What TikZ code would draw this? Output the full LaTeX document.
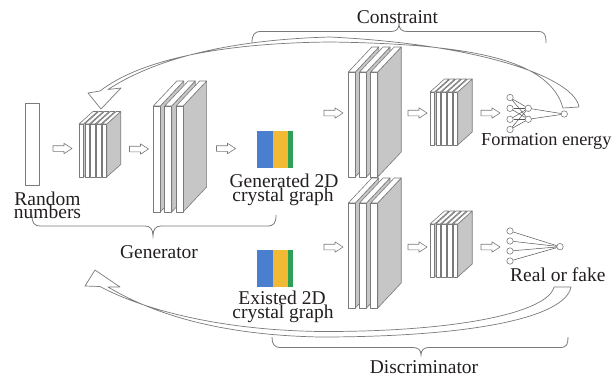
\documentclass[tikz,border=0pt]{standalone}
\usepackage{fontspec}
\setmainfont{Liberation Serif}
\definecolor{edge}{HTML}{7A7A7A}
\definecolor{side}{HTML}{C6C6C6}
\definecolor{ink}{HTML}{231F20}
\definecolor{wire}{HTML}{555555}
\definecolor{cblue}{HTML}{4A7FCF}
\definecolor{cyellow}{HTML}{F2B935}
\definecolor{cgreen}{HTML}{2EA055}

% A row of thin 3D slabs (a convolutional block).
% #1 left x of first front face, #2 bottom y, #3 count, #4 face width,
% #5 face height, #6 pitch, #7 depth dx, #8 depth dy
\newcommand{\slabstack}[8]{%
  \foreach \k in {1,...,#3}{%
    \pgfmathsetmacro{\sx}{#1+(\k-1)*#6}%
    \pgfmathsetmacro{\sr}{\sx+#4}%
    \pgfmathsetmacro{\st}{#2-#5}%
    \filldraw[slab, fill=side] (\sr,#2) -- (\sr,\st) -- ({\sr+#7},{\st-#8}) -- ({\sr+#7},{#2-#8}) -- cycle;
    \filldraw[slab, fill=white] (\sx,\st) -- ({\sx+#7},{\st-#8}) -- ({\sr+#7},{\st-#8}) -- (\sr,\st) -- cycle;
    \filldraw[slab, fill=white] (\sx,#2) rectangle (\sr,\st);
  }%
}

\begin{document}
\begin{tikzpicture}[x=1pt, y=-1pt,
  slab/.style={draw=edge, line width=0.6pt, line join=round},
  band/.style={draw=edge, line width=0.7pt, fill=white, line join=round},
  bracel/.style={draw=edge, line width=0.8pt},
  lbl/.style={inner sep=0pt, text=ink, font=\fontsize{19.5}{19.5}\selectfont},
  neuron/.style={circle, draw=edge, fill=white, line width=0.6pt, minimum size=6.4pt, inner sep=0pt},
  wires/.style={draw=wire, line width=0.5pt},
  barrow/.pic={\draw[slab, fill=white] (0,-2.8) -- (11,-2.8) -- (11,-5.2) -- (19,0) -- (11,5.2) -- (11,2.8) -- (0,2.8) -- cycle;}
]
\useasboundingbox (0,0) rectangle (612,378);
\fill[white] (0,0) rectangle (612,378);

% feedback arrow from the energy predictor back to the generator
\draw[band] (579,107) .. controls (575,80) and (490,45) .. (330,37)
  .. controls (220,40) and (150,62) .. (108,89.5)
  -- (121,88) -- (101,109) -- (88,93) -- (100,91)
  .. controls (140,60) and (220,43) .. (330,42)
  .. controls (480,44) and (550,62) .. (563,108) -- cycle;

% feedback arrow from the discriminator back to the generator
\draw[band] (571,287) .. controls (565,318) and (470,337) .. (320,337)
  .. controls (215,335) and (150,312) .. (108,287)
  -- (120,287) -- (95,270) -- (85,286) -- (100,286.5)
  .. controls (140,308) and (215,330) .. (320,331.5)
  .. controls (460,332) and (548,312) .. (554,287) -- cycle;

% generator
\node[slab, fill=white, minimum width=14.3pt, minimum height=82pt, inner sep=0pt] (rnd) at (32.2,144.2) {};
\pic (a1) at (53,148.5) {barrow};
\slabstack{79}{177}{5}{4.5}{53}{5.8}{14}{12.5}
\pic (a2) at (129.5,149) {barrow};
\slabstack{153.3}{212}{3}{7}{106}{11.4}{23.5}{25}
\pic (a3) at (216.5,148.5) {barrow};

% crystal graphs
\fill[cblue] (257.3,131) rectangle (272.7,167.7);
\fill[cyellow] (272.7,131) rectangle (288.3,167.7);
\fill[cgreen] (288.3,131) rectangle (292.7,167.7);
\fill[cblue] (257.3,250) rectangle (272.7,286.7);
\fill[cyellow] (272.7,250) rectangle (288.3,286.7);
\fill[cgreen] (288.3,250) rectangle (292.7,286.7);

% predictor branch
\pic (a4) at (324,113) {barrow};
\slabstack{348.3}{177}{3}{7}{105}{11.2}{23.5}{25}
\pic (a5) at (408,113) {barrow};
\slabstack{430}{145}{5}{4.5}{53}{5.8}{14.5}{13}
\pic (a6) at (481,113) {barrow};

\node[neuron] (i1) at (510,97.5) {};
\node[neuron] (i2) at (510,108.3) {};
\node[neuron] (i3) at (510,119.3) {};
\node[neuron] (i4) at (510,129.5) {};
\node[neuron] (h1) at (528.3,108.3) {};
\node[neuron] (h2) at (528.3,119.3) {};
\node[neuron] (o1) at (564.3,114) {};
\foreach \a in {i1,i2,i3,i4}{\foreach \b in {h1,h2}{\draw[wires] (\a) -- (\b);}}
\draw[wires] (h1) -- (o1);
\draw[wires] (h2) -- (o1);

% discriminator branch
\pic (a7) at (324,247) {barrow};
\slabstack{348.3}{308}{3}{7}{105}{11.2}{23.5}{25}
\pic (a8) at (408,247) {barrow};
\slabstack{430}{277}{5}{4.5}{53}{5.8}{14.5}{13}
\pic (a9) at (481,247) {barrow};

\node[neuron] (j1) at (510,231) {};
\node[neuron] (j2) at (510,241) {};
\node[neuron] (j3) at (510,251) {};
\node[neuron] (j4) at (510,261) {};
\node[neuron] (o2) at (560,246.7) {};
\foreach \a in {j1,j2,j3,j4}{\draw[wires] (\a) -- (o2);}

% braces
\draw[bracel] (32,215) .. controls (32,223) and (34,226) .. (41,226) -- (145,226)
  .. controls (150,226) and (153,229) .. (153,236)
  .. controls (153,229) and (156,226) .. (161,226) -- (267,226)
  .. controls (274,226) and (276,223) .. (276,215);
\draw[bracel] (252,43) .. controls (252,35) and (254,31.5) .. (261,31.5) -- (391,31.5)
  .. controls (396,31.5) and (399,29) .. (399,24)
  .. controls (399,29) and (402,31.5) .. (407,31.5) -- (538,31.5)
  .. controls (545,31.5) and (546,35) .. (546,43);
\draw[bracel] (272,337) .. controls (272,344) and (274,347.5) .. (281,347.5) -- (413,347.5)
  .. controls (418,347.5) and (421,350) .. (421,355)
  .. controls (421,350) and (424,347.5) .. (429,347.5) -- (560,347.5)
  .. controls (567,347.5) and (568,344) .. (568,337);

% labels
\node[lbl, anchor=base] (trand1) at (47.5,205) {Random};
\node[lbl, anchor=base] (trand2) at (47.5,218.5) {numbers};
\node[lbl, anchor=base] (tgen1) at (284,187) {Generated 2D};
\node[lbl, anchor=base] (tgen2) at (283,201.5) {crystal graph};
\node[lbl, anchor=base] (tex1) at (282,304.5) {Existed 2D};
\node[lbl, anchor=base] (tex2) at (283,318.5) {crystal graph};
\node[lbl, anchor=base] (tgenerator) at (159,258) {Generator};
\node[lbl, anchor=base] (tdisc) at (424,373) {Discriminator};
\node[lbl, anchor=base] (tconstr) at (397.5,23) {Constraint};
\node[lbl, anchor=base west, font=\fontsize{18.3}{18.3}\selectfont] (tfe) at (481,145) {Formation energy};
\node[lbl, anchor=base west] (trf) at (510,281.5) {Real or fake};
\end{tikzpicture}
\end{document}
